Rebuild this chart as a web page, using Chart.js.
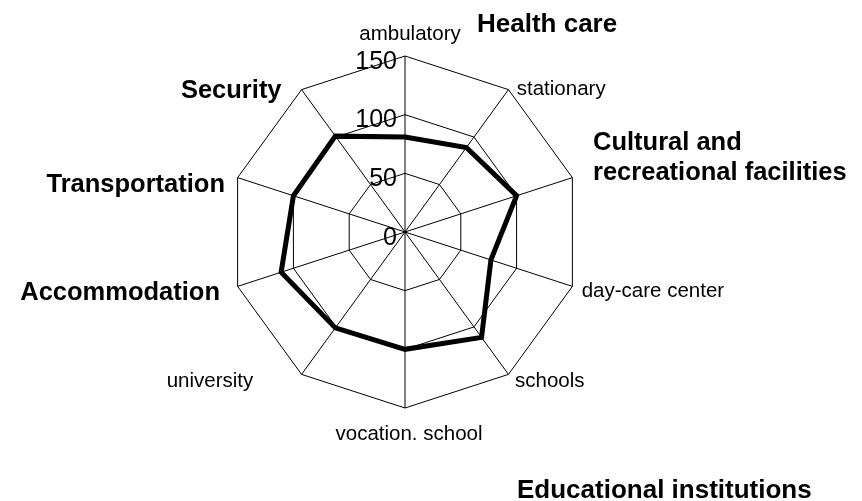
<!DOCTYPE html>
<html>
<head>
<meta charset="utf-8">
<script src="https://cdn.jsdelivr.net/npm/chart.js@4/dist/chart.umd.min.js"></script>
<style>
  html, body { margin: 0; padding: 0; background: #fff; }
  #wrap { width: 862px; height: 501px; position: relative; }
</style>
</head>
<body>
<div id="wrap"><canvas id="c" width="862" height="501"></canvas></div>
<script>
// ---- data ----
const categories = ['ambulatory', 'stationary', 'Cultural and recreational facilities', 'day-care center',
  'schools', 'vocation. school', 'university', 'Accommodation', 'Transportation', 'Security'];
const values = [81, 89, 100, 77, 111, 100, 101, 111, 100, 101];
const tickLabels = ['0', '50', '100', '150'];
const headings = ['Health care', 'Educational institutions'];

// ---- presentation ----
const FONT = '"Liberation Sans", Arial, Helvetica, sans-serif';
const boldAxes = new Set([2, 7, 8, 9]);
// per-axis label placement relative to outer vertex: [dx, dy(baseline), align]
const labelPlace = [
  [5, -16.5, 'center'],
  [8.3, 5.4, 'left'],
  [20.6, -27.6, 'left'],
  [9.3, 10.6, 'left'],
  [6.6, 12.6, 'left'],
  [4, 32, 'center'],
  [-48.3, 13, 'right'],
  [-17.6, 13.6, 'right'],
  [-12.6, 14, 'right'],
  [-20, 8.7, 'right']
];

const labelPlugin = {
  id: 'customLabels',
  afterDraw(chart) {
    const s = chart.scales.r;
    const ctx = chart.ctx;
    ctx.save();
    ctx.fillStyle = '#000';
    ctx.textBaseline = 'alphabetic';
    // radial tick labels
    ctx.font = '25px ' + FONT;
    ctx.textAlign = 'right';
    s.ticks.forEach((t, i) => {
      const d = s.getDistanceFromCenterForValue(t.value);
      ctx.fillText(tickLabels[i] !== undefined ? tickLabels[i] : String(t.value), s.xCenter - 8, s.yCenter - d + 12.5);
    });
    // point labels
    categories.forEach((name, i) => {
      const p = s.getPointPosition(i, s.drawingArea);
      const [dx, dy, align] = labelPlace[i];
      ctx.textAlign = align;
      if (boldAxes.has(i)) {
        ctx.font = 'bold 25.5px ' + FONT;
      } else {
        ctx.font = '20.5px ' + FONT;
      }
      let lines = [name];
      if (i === 2) {
        const w = name.split(' ');
        lines = [w.slice(0, 2).join(' '), w.slice(2).join(' ')];
      }
      lines.forEach((ln, k) => ctx.fillText(ln, p.x + dx, p.y + dy + k * 30));
    });
    // group headings
    ctx.font = 'bold 26px ' + FONT;
    ctx.textAlign = 'left';
    const top = s.getPointPosition(0, s.drawingArea);
    ctx.fillText(headings[0], top.x + 72, top.y - 24.3);
    const bot = s.getPointPosition(5, s.drawingArea);
    ctx.fillText(headings[1], bot.x + 112, bot.y + 90);
    ctx.restore();
  }
};

new Chart(document.getElementById('c'), {
  type: 'radar',
  data: {
    labels: categories,
    datasets: [{
      data: values,
      borderColor: '#000',
      borderWidth: 5,
      borderJoinStyle: 'miter',
      pointRadius: 0,
      pointHoverRadius: 0,
      fill: false,
      tension: 0
    }]
  },
  options: {
    responsive: false,
    animation: false,
    devicePixelRatio: 1,
    layout: { padding: { left: 229, right: 281, top: 56, bottom: 93 } },
    plugins: { legend: { display: false }, tooltip: { enabled: false } },
    scales: {
      r: {
        min: 0,
        max: 150,
        ticks: { stepSize: 50, display: false },
        pointLabels: { display: false },
        grid: { color: '#000', lineWidth: 1 },
        angleLines: { color: '#000', lineWidth: 1 }
      }
    }
  },
  plugins: [labelPlugin]
});
</script>
</body>
</html>
